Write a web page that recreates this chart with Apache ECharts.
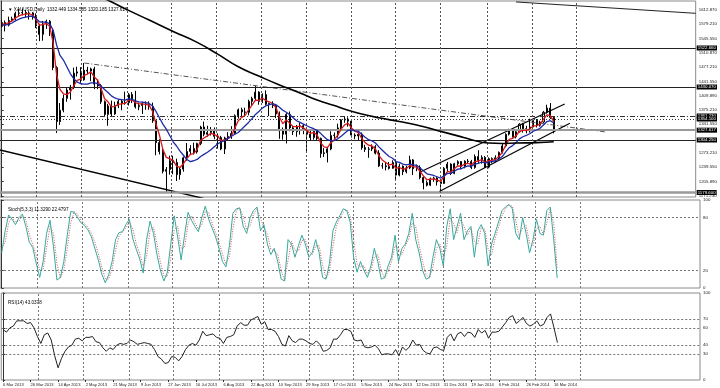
<!DOCTYPE html>
<html><head><meta charset="utf-8">
<script src="https://cdn.jsdelivr.net/npm/echarts@6/dist/echarts.min.js"></script>
<style>html,body{margin:0;padding:0;background:#fff}#c{width:720px;height:388px}</style>
</head><body><div id="c"></div>
<script>
// ---------- DATA ----------
const dateLabels = ['6 Mar 2013','26 Mar 2013','14 Apr 2013','2 May 2013','21 May 2013','9 Jun 2013','27 Jun 2013','16 Jul 2013','6 Aug 2013','22 Aug 2013','10 Sep 2013','29 Sep 2013','17 Oct 2013','5 Nov 2013','24 Nov 2013','12 Dec 2013','31 Dec 2013','19 Jan 2014','6 Feb 2014','26 Feb 2014','16 Mar 2014'];
const dateLabelBars = [0,8,16,24,32,40,48,56,64,72,80,88,96,104,112,120,128,136,144,152,160];
const monthLineBars = [10.2,23.3,36.6,49.4,62.7,75.7,88.8,101.8,114.9,127.9,141.5,154.6,167.6];

// candles: [open, close, low, high]
const candles = [
[1574,1583,1572,1590],[1583,1577,1562,1588],[1577,1588,1574,1597],[1588,1592,1585,1597],[1592,1605,1588,1609],[1605,1606,1597,1616],[1606,1607,1600,1616],[1607,1604,1596,1613],
[1604,1606,1590,1610],[1606,1596,1590,1608],[1596,1575,1570,1605],[1575,1555,1539,1580],[1555,1580,1540,1587],[1580,1586,1568,1590],[1586,1563,1551,1589],[1563,1476,1470,1565],
[1476,1348,1321,1480],[1348,1375,1340,1392],[1375,1403,1370,1412],[1403,1423,1395,1430],[1423,1430,1400,1435],[1430,1463,1425,1476],[1463,1466,1455,1478],[1466,1447,1440,1477],
[1447,1470,1445,1487],[1470,1468,1460,1478],[1468,1473,1444,1476],[1473,1437,1425,1478],[1437,1433,1425,1448],[1433,1395,1390,1437],[1395,1365,1359,1398],[1365,1385,1338,1390],
[1385,1366,1360,1398],[1366,1386,1364,1395],[1386,1396,1380,1400],[1396,1392,1375,1400],[1392,1393,1388,1419],[1393,1412,1386,1416],[1412,1399,1392,1418],[1399,1383,1379,1421],
[1383,1386,1375,1393],[1386,1390,1366,1395],[1390,1388,1376,1396],[1388,1384,1376,1396],[1384,1350,1345,1393],[1350,1298,1268,1352],[1298,1277,1270,1306],[1277,1230,1225,1284],
[1230,1234,1180,1240],[1234,1255,1222,1267],[1255,1251,1223,1267],[1251,1222,1207,1260],[1222,1235,1210,1240],[1235,1262,1229,1265],[1262,1277,1255,1297],[1277,1284,1270,1292],
[1284,1276,1270,1298],[1276,1296,1272,1298],[1296,1335,1292,1338],[1335,1318,1313,1348],[1318,1322,1312,1338],[1322,1328,1315,1335],[1328,1313,1306,1334],[1313,1310,1284,1320],
[1310,1283,1280,1314],[1283,1309,1271,1312],[1309,1313,1304,1323],[1313,1320,1307,1337],[1320,1362,1318,1365],[1362,1376,1355,1379],[1376,1371,1360,1381],[1371,1370,1361,1381],
[1370,1396,1363,1400],[1396,1403,1386,1407],[1403,1418,1399,1433],[1418,1396,1388,1420],[1396,1412,1392,1415],[1412,1389,1386,1422],[1389,1391,1361,1393],[1391,1386,1380,1396],
[1386,1366,1356,1388],[1366,1326,1307,1372],[1326,1318,1305,1334],[1318,1365,1296,1368],[1365,1333,1325,1372],[1333,1324,1316,1338],[1324,1336,1312,1340],[1336,1338,1317,1345],
[1338,1327,1318,1342],[1327,1318,1277,1330],[1318,1310,1302,1326],[1310,1325,1305,1328],[1325,1308,1304,1327],[1308,1272,1262,1310],[1272,1274,1264,1285],[1274,1283,1251,1287],
[1283,1315,1280,1325],[1315,1316,1307,1322],[1316,1333,1310,1343],[1333,1352,1328,1354],[1352,1354,1345,1361],[1354,1349,1336,1358],[1349,1316,1310,1352],[1316,1314,1306,1320],
[1314,1318,1302,1321],[1318,1286,1281,1322],[1286,1282,1276,1293],[1282,1283,1262,1288],[1283,1288,1278,1294],[1288,1273,1270,1292],[1273,1243,1240,1280],[1243,1243,1236,1250],
[1243,1241,1232,1251],[1241,1237,1234,1252],[1237,1251,1236,1256],[1251,1221,1211,1254],[1221,1242,1218,1248],[1242,1229,1221,1244],[1229,1238,1225,1243],[1238,1257,1235,1267],
[1257,1236,1221,1259],[1236,1239,1230,1246],[1239,1215,1211,1244],[1215,1203,1187,1218],[1203,1197,1194,1208],[1197,1212,1195,1215],[1212,1214,1205,1217],[1214,1205,1196,1216],
[1205,1201,1182,1210],[1201,1237,1200,1240],[1237,1247,1230,1252],[1247,1225,1221,1249],[1225,1248,1223,1250],[1248,1253,1243,1256],[1253,1241,1235,1254],[1241,1254,1237,1256],
[1254,1253,1248,1259],[1253,1239,1235,1257],[1239,1265,1236,1270],[1265,1256,1250,1280],[1256,1263,1248,1268],[1263,1240,1238,1266],[1240,1260,1237,1263],[1260,1258,1249,1263],
[1258,1262,1251,1268],[1262,1275,1258,1277],[1275,1290,1272,1295],[1290,1318,1287,1320],[1318,1328,1315,1331],[1328,1312,1310,1332],[1312,1324,1308,1330],[1324,1342,1322,1344],
[1342,1331,1322,1345],[1331,1326,1320,1338],[1326,1335,1322,1355],[1335,1351,1332,1353],[1351,1339,1334,1354],[1339,1347,1336,1350],[1347,1370,1345,1373],[1370,1380,1367,1388],
[1380,1358,1354,1392],[1358,1327.6,1320,1361]
];

const redMA = [1580,1579,1583,1587,1594,1599,1602,1603,1604,1601,1591,1577,1578,1581,1574,1535,
1460,1424,1414,1412,1418,1433,1446,1449,1457,1461,1466,1454,1446,1426,1402,1395,
1383,1384,1389,1390,1391,1399,1399,1393,1390,1390,1389,1387,1372,1342,1316,1282,
1263,1260,1256,1242,1239,1248,1260,1270,1272,1282,1303,1309,1314,1320,1317,1314,
1302,1305,1308,1313,1333,1350,1358,1363,1376,1387,1399,1398,1404,1398,1395,1391,
1381,1359,1343,1352,1344,1336,1336,1337,1333,1327,1320,1322,1316,1298,1288,1286,
1298,1305,1316,1330,1340,1344,1333,1325,1322,1308,1298,1292,1290,1283,1267,1257,
1251,1245,1247,1237,1239,1235,1236,1244,1241,1240,1230,1219,1210,1211,1212,1209,
1206,1218,1230,1228,1236,1243,1242,1247,1249,1245,1253,1254,1258,1251,1255,1256,
1258,1265,1275,1292,1306,1308,1314,1325,1327,1327,1330,1338,1338,1342,1353,1364,
1362,1348];

const blueMA = [1577,1577,1579,1582,1587,1591,1594,1596,1598,1598,1593,1585,1584,1584,1580,1565,
1530,1505,1494,1478,1462,1450,1442,1438,1437,1437,1440,1440,1438,1432,1424,1417,
1409,1404,1401,1400,1399,1402,1401,1397,1395,1394,1393,1391,1385,1372,1357,1342,
1330,1315,1300,1290,1278,1268,1258,1253,1255,1258,1265,1270,1275,1281,1288,1295,
1300,1303,1308,1313,1318,1322,1330,1338,1346,1355,1365,1372,1380,1385,1388,1390,
1388,1382,1375,1370,1364,1357,1350,1346,1342,1338,1334,1331,1327,1320,1312,1305,
1302,1303,1307,1313,1320,1327,1328,1326,1325,1318,1311,1305,1302,1297,1288,1280,
1272,1265,1261,1253,1251,1247,1245,1247,1245,1244,1238,1231,1224,1222,1220,1217,
1214,1219,1225,1225,1230,1235,1236,1240,1243,1242,1247,1249,1252,1250,1252,1253,
1255,1259,1265,1276,1286,1291,1298,1307,1312,1315,1319,1325,1328,1332,1340,1348,
1350,1345];

// 200-period MA: [bar, price]
const ma200 = [[27,1650],[31,1636],[37,1612],[43,1589],[50,1562],[57,1536],[63,1508],[69,1478],[75,1456],[81,1435],[87,1416],[92,1399],[97,1386],[101,1375],[105,1366],[110,1357],[116,1348],[121,1340],[127,1327],[133,1314],[137,1305],[142,1297],[146,1296],[150,1297],[156,1298],[161,1300]];

const stochMain = [40,65,83,78,72,80,84,70,52,46,28,12,30,62,77,47,9,12,30,60,87,86,80,74,71,66,58,45,32,16,6,15,30,55,63,64,72,78,56,44,33,17,55,76,62,38,20,8,18,50,82,58,32,60,86,77,70,64,80,93,78,68,58,45,30,24,48,85,90,91,70,62,80,88,92,65,72,50,38,45,30,10,8,55,50,35,48,60,50,35,40,55,40,12,10,28,65,75,82,90,88,75,35,18,30,20,12,25,45,30,10,12,25,35,60,30,45,50,62,85,55,40,20,10,12,35,55,45,25,70,90,55,70,85,55,65,70,35,65,72,62,25,50,62,75,88,92,95,90,62,55,80,62,40,55,78,62,60,88,92,55,11.3];
const stochSignal = [45,52,74,80,75,76,82,77,61,49,37,20,21,46,70,62,28,11,21,45,74,87,83,77,73,69,62,52,39,24,11,10,22,43,59,64,68,75,67,50,39,25,36,66,69,50,29,14,13,34,66,70,45,46,73,82,74,67,72,87,86,73,63,52,38,27,36,67,88,91,81,66,71,84,90,79,69,61,44,42,38,20,9,32,53,43,42,54,55,43,38,48,48,26,11,19,47,70,79,86,89,82,55,27,24,25,16,19,35,38,20,11,19,30,48,45,38,48,56,74,70,48,30,15,11,24,45,50,35,48,80,73,63,78,70,60,68,53,50,69,67,44,38,56,69,82,90,94,93,76,59,68,71,51,48,67,70,61,74,90,74,22.5];
const rsi = [58,55,60,62,68,68,68,65,66,60,50,42,52,54,46,28,14,25,33,38,40,47,48,45,49,49,50,44,43,37,33,37,35,40,42,41,42,46,44,41,42,43,42,41,35,27,24,19,20,27,26,22,27,35,40,42,40,46,56,51,52,53,49,48,42,49,50,52,62,66,63,63,69,71,73,64,67,58,58,56,50,41,39,51,45,43,47,47,45,42,41,45,41,33,34,37,47,47,52,58,58,56,46,45,46,38,37,38,40,36,29,30,30,29,35,28,38,34,38,46,40,41,34,31,30,37,38,35,34,49,53,45,53,55,50,55,54,49,58,54,57,48,55,55,56,61,66,72,74,65,68,72,65,62,64,68,62,64,72,76,60,43];

const priceTicks = [1612.87,1579.21,1545.55,1510.87,1477.21,1441.55,1409.89,1375.21,1341.55,1273.21,1239.55,1205.89,1171.23];
const stochTicks = [0,20,80,100];
const rsiTicks = [0,30,40,60,70,100];
const stochLevels = [20,80];
const rsiLevels = [30,40,60,70];

// horizontal levels drawn on the chart
const levelPrices = [1522.66,1430.07,1361.23,1354.10,1327.62,1304.25,1179.60];
const levelTexts = ['1522.660','1430.070','1361.230','1354.100','1327.617','1304.250','1179.600'];
const levelKinds = ['solid','solid','dashdot','dotted','bid','solid','double'];

// trend lines [bar, price]
const trendBottomLeft = [[-0.5,1280.5],[60.4,1162.5]];
const trendTopRight = [[150,1632],[202.4,1605.0]];
const trendDashDot = [[24.1,1487.0],[176.3,1323.2]];
const channelUpper = [[122.2,1229.0],[164.2,1389.7]];
const channelLower = [[127.5,1181.5],[165.7,1343.9]];

// ---------- CHART ----------
const FONT = 'Liberation Sans';
const XMIN = -0.5, XMAX = 202.4;
const chart = echarts.init(document.getElementById('c'), null, {renderer:'canvas'});
const gridStyle = {left:0, right:20, show:true, borderColor:'#8a8a8a', borderWidth:1, backgroundColor:'#fff'};
const monthLines = monthLineBars.map(v => ({xAxis: v}));
const monthMark = () => ({symbol:'none', silent:true, label:{show:false},
  lineStyle:{color:'#555', type:[2,2], width:1}, data: monthLines});

function xAx(i, labels){
  return {type:'value', gridIndex:i, min:XMIN, max:XMAX, splitLine:{show:false},
    axisLine:{show:false},
    axisTick: labels ? {show:true, customValues: dateLabelBars, length:2, lineStyle:{color:'#333'}} : {show:false},
    axisLabel: labels ? {show:true, customValues: dateLabelBars, align:'left', margin:3,
      fontSize:4.1, color:'#222', fontFamily:FONT,
      formatter: v => dateLabels[dateLabelBars.indexOf(v)] || ''} : {show:false}};
}
function yAx(i, min, max, ticks, fmt){
  return {type:'value', gridIndex:i, position:'right', min, max, splitLine:{show:false},
    axisLine:{show:true, lineStyle:{color:'#333', width:1}},
    axisTick:{show:true, customValues: ticks, length:2, inside:false, lineStyle:{color:'#333'}},
    axisLabel:{show:true, customValues: ticks, margin:3, fontSize:4.4, color:'#222', fontFamily:FONT, formatter: fmt}};
}

const levelData = levelPrices.map((p, k) => {
  const kind = levelKinds[k];
  let ls = {color:'#222', width:1, type:'solid'};
  if (kind === 'dashdot') ls = {color:'#333', width:1, type:[5,2,1,2]};
  if (kind === 'dotted') ls = {color:'#333', width:1, type:[1,2]};
  if (kind === 'bid') ls = {color:'#9a9a9a', width:2, type:'solid'};
  if (kind === 'double') ls = {color:'#9a9a9a', width:2.5, type:'solid'};
  return {yAxis: p, lineStyle: ls, label:{show:true, position:'end', distance:1, formatter: levelTexts[k],
    backgroundColor:'#000', color:'#fff', fontSize:4.4, fontFamily:FONT, padding:[1,1,0,1]}};
});

function tline(data, color, type, width){
  return {type:'line', xAxisIndex:0, yAxisIndex:0, data, showSymbol:false, symbol:'none', silent:true,
    lineStyle:{color, type, width}, clip:true, z:4};
}

const option = {
  animation:false,
  backgroundColor:'#fff',
  textStyle:{fontFamily:FONT},
  title:[
    {text:'\u25BC XAUUSD,Daily  1332.449 1334.585 1320.185 1327.617', left:3, top:2, textStyle:{fontSize:4.6, fontWeight:'normal', color:'#000', fontFamily:FONT}},
    {text:'Stoch(5,3,3) 11.3290 22.4797', left:3, top:202, textStyle:{fontSize:4.6, fontWeight:'normal', color:'#000', fontFamily:FONT}},
    {text:'RSI(14) 43.0378', left:3, top:295, textStyle:{fontSize:4.6, fontWeight:'normal', color:'#000', fontFamily:FONT}}
  ],
  grid:[
    Object.assign({top:1, height:196}, gridStyle),
    Object.assign({top:200, height:88}, gridStyle),
    Object.assign({top:293, height:87}, gridStyle)
  ],
  xAxis:[xAx(0,false), xAx(1,false), xAx(2,true)],
  yAxis:[
    yAx(0, 1168.93, 1634.24, priceTicks, v => v.toFixed(3)),
    yAx(1, 0, 100, stochTicks, v => String(v)),
    yAx(2, 0, 100, rsiTicks, v => String(v))
  ],
  series:[
    {type:'candlestick', xAxisIndex:0, yAxisIndex:0, barWidth:1.6,
     data: candles.map((c,i) => [i, c[0], c[1], c[2], c[3]]),
     itemStyle:{color:'#ffffff', color0:'#000000', borderColor:'#000000', borderColor0:'#000000', borderWidth:1},
     markLine:{symbol:'none', silent:true, data: levelData}, z:3},
    {type:'line', xAxisIndex:0, yAxisIndex:0, data: redMA.map((v,i)=>[i,v]), showSymbol:false, symbol:'none',
     lineStyle:{color:'#d81818', width:1.3}, markLine: monthMark(), z:5},
    {type:'line', xAxisIndex:0, yAxisIndex:0, data: blueMA.map((v,i)=>[i,v]), showSymbol:false, symbol:'none',
     lineStyle:{color:'#1c2aa6', width:1.3}, z:5},
    {type:'line', xAxisIndex:0, yAxisIndex:0, data: ma200, smooth:true, showSymbol:false, symbol:'none',
     lineStyle:{color:'#000', width:1.6}, clip:true, z:5},
    tline(trendBottomLeft, '#000', 'solid', 1.4),
    tline(trendTopRight, '#222', 'solid', 1),
    tline(trendDashDot, '#555', [5,2,1,2], 1),
    tline(channelUpper, '#000', 'solid', 1.2),
    tline(channelLower, '#000', 'solid', 1.2),
    {type:'line', xAxisIndex:1, yAxisIndex:1, data: stochMain.map((v,i)=>[i,v]), showSymbol:false, symbol:'none',
     lineStyle:{color:'#3aa89e', width:1}, z:5,
     markLine:{symbol:'none', silent:true, label:{show:false},
       data: stochLevels.map(v=>({yAxis:v})).concat(monthLines),
       lineStyle:{color:'#777', type:[2,2], width:1}}},
    {type:'line', xAxisIndex:1, yAxisIndex:1, data: stochSignal.map((v,i)=>[i,v]), showSymbol:false, symbol:'none',
     lineStyle:{color:'#c85a5a', width:1, type:[1,1.5]}, z:4},
    {type:'line', xAxisIndex:2, yAxisIndex:2, data: rsi.map((v,i)=>[i,v]), showSymbol:false, symbol:'none',
     lineStyle:{color:'#222', width:1}, z:5,
     markLine:{symbol:'none', silent:true, label:{show:false},
       data: rsiLevels.map(v=>({yAxis:v})).concat(monthLines),
       lineStyle:{color:'#777', type:[2,2], width:1}}}
  ]
};
chart.setOption(option);
</script>
</body></html>
